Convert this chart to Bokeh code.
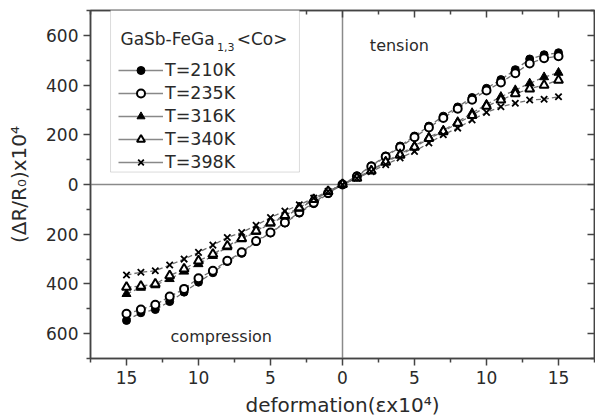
import numpy as np
from bokeh.plotting import figure
from bokeh.models import (Range1d, LinearAxis, Span, Label, Legend, LegendItem,
                          FixedTicker, BoxAnnotation)
from bokeh.embed import file_html
from bokeh.resources import INLINE

# ---- data ----
strain = list(range(-15, 16))
r_210 = [-547, -516, -503, -471, -433, -393, -355, -310, -277, -230, -195, -155, -115, -77, -37, 0,
         35, 75, 115, 155, 195, 235, 275, 312, 350, 387, 422, 462, 505, 522, 530]
r_235 = [-520, -503, -484, -451, -420, -377, -347, -307, -273, -227, -193, -153, -112, -73, -34, 0,
         32, 72, 112, 150, 190, 229, 268, 305, 341, 378, 410, 448, 487, 508, 516]
r_316 = [-440, -415, -405, -380, -350, -320, -287, -252, -220, -190, -157, -128, -97, -62, -29, 0,
         27, 57, 93, 123, 155, 190, 218, 252, 288, 322, 353, 380, 407, 432, 450]
r_340 = [-413, -409, -400, -367, -340, -307, -280, -247, -217, -187, -153, -124, -93, -60, -28, 0,
         26, 55, 90, 118, 150, 185, 213, 247, 278, 315, 340, 365, 385, 400, 420]
r_398 = [-364, -353, -347, -324, -300, -273, -244, -213, -193, -164, -133, -107, -82, -55, -27, 0,
         25, 52, 80, 107, 133, 167, 200, 227, 260, 290, 313, 327, 340, 343, 353]
series_labels = ["T=210K", "T=235K", "T=316K", "T=340K", "T=398K"]
title_main = "GaSb-FeGa"
title_sub = "1,3"
title_end = "<Co>"

x_ticks = [-15, -10, -5, 0, 5, 10, 15]
x_tick_labels = ["15", "10", "5", "0", "5", "10", "15"]
x_minor = [-17.5, -12.5, -7.5, -2.5, 2.5, 7.5, 12.5, 17.5]
y_ticks = [-600, -400, -200, 0, 200, 400, 600]
y_tick_labels = ["600", "400", "200", "0", "200", "400", "600"]
y_minor = [-700, -500, -300, -100, 100, 300, 500, 700]

FONT = "DejaVu Sans"
AX = "#444444"
TXT = "#2a2a2a"

p = figure(width=595, height=419, x_range=Range1d(-17.5, 17.5), y_range=Range1d(-700, 700),
           output_backend="svg", toolbar_location=None,
           min_border_left=90, min_border_right=1, min_border_top=10, min_border_bottom=56)
p.grid.visible = False
p.outline_line_color = AX
p.outline_line_width = 1.5
p.background_fill_color = "white"

def style_main(ax, ticks, minor, labels):
    ax.ticker = FixedTicker(ticks=ticks, minor_ticks=minor)
    ax.major_label_overrides = dict(zip(ticks, labels))
    ax.axis_line_color = AX
    ax.axis_line_width = 1.5
    ax.major_tick_line_color = AX
    ax.major_tick_line_width = 1.5
    ax.minor_tick_line_color = AX
    ax.minor_tick_line_width = 1.5
    ax.major_tick_out = 7
    ax.major_tick_in = 0
    ax.minor_tick_out = 4
    ax.minor_tick_in = 0
    ax.major_label_text_font = FONT
    ax.major_label_text_font_size = "17px"
    ax.major_label_text_color = TXT
    ax.axis_label_text_font = FONT
    ax.axis_label_text_font_size = "20px"
    ax.axis_label_text_font_style = "normal"
    ax.axis_label_text_color = TXT

style_main(p.xaxis[0], x_ticks, x_minor, x_tick_labels)
style_main(p.yaxis[0], y_ticks, y_minor, y_tick_labels)
p.xaxis[0].axis_label = "deformation(\u03b5x10\u2074)"
p.yaxis[0].axis_label = "(\u0394R/R\u2080)x10\u2074"
p.xaxis[0].major_label_standoff = 5
p.xaxis[0].axis_label_standoff = 6
p.yaxis[0].major_label_standoff = 5
p.yaxis[0].axis_label_standoff = 12

def mirror_axis(ticks, minor):
    ax = LinearAxis(ticker=FixedTicker(ticks=ticks, minor_ticks=minor))
    ax.major_label_overrides = {t: "" for t in ticks}
    ax.major_label_text_font_size = "1px"
    ax.major_label_standoff = 0
    ax.axis_line_color = AX
    ax.axis_line_width = 1.5
    ax.major_tick_line_color = AX
    ax.major_tick_line_width = 1.5
    ax.minor_tick_line_color = AX
    ax.minor_tick_line_width = 1.5
    ax.major_tick_out = 0
    ax.major_tick_in = 7
    ax.minor_tick_out = 0
    ax.minor_tick_in = 4
    return ax

p.add_layout(mirror_axis(x_ticks, x_minor), "above")
p.add_layout(mirror_axis(y_ticks, y_minor), "right")

# zero lines
p.add_layout(Span(location=0, dimension="height", line_color="#8a8a8a", line_width=1.5, level="underlay"))
p.add_layout(Span(location=0, dimension="width", line_color="#8a8a8a", line_width=1.5, level="underlay"))

# data lines
all_series = [r_210, r_235, r_316, r_340, r_398]
for vals in all_series:
    p.line(strain, vals, line_color="#707070", line_dash="5 3", line_width=1.3)

marker_specs = [
    dict(marker="circle", size=8, fill_color="black", line_color="black", line_width=1),
    dict(marker="circle", size=8, fill_color="white", line_color="black", line_width=2),
    dict(marker="triangle", size=9, fill_color="black", line_color="black", line_width=1),
    dict(marker="triangle", size=9, fill_color="white", line_color="black", line_width=2),
    dict(marker="x", size=9, line_color="black", line_width=1.8),
]
scatters = []
for vals, spec in zip(all_series, marker_specs):
    scatters.append(p.scatter(strain, vals, **spec))

# legend frame
p.add_layout(BoxAnnotation(left=-16.11, right=-2.99, top=707, bottom=50,
                           fill_color="white", fill_alpha=1,
                           line_color="#888888", line_width=1, level="annotation"))

# legend entries (solid grey line + marker)
nan2 = np.array([np.nan, np.nan])
items = []
for lab, sc in zip(series_labels, scatters):
    leg_line = p.line(np.array([0.0, 1.0]), nan2, line_color="#888888", line_width=1.3)
    items.append(LegendItem(label=lab, renderers=[leg_line, sc]))

legend = Legend(items=items, location=(23, 181), title=" ",
                title_text_font=FONT, title_text_font_size="17px", title_text_font_style="normal",
                title_standoff=26,
                label_text_font=FONT, label_text_font_size="17.5px", label_text_color=TXT,
                glyph_width=45, glyph_height=20, label_standoff=2, label_height=20,
                label_width=120, spacing=3, padding=5, margin=0,
                border_line_alpha=0, background_fill_alpha=0)
p.add_layout(legend)

# legend title with subscript
p.add_layout(Label(x=-15.42, y=585, text=title_main, text_font=FONT, text_font_size="17px",
                   text_color=TXT, text_baseline="alphabetic", level="overlay"))
p.add_layout(Label(x=-8.72, y=554, text=title_sub, text_font=FONT, text_font_size="11px",
                   text_color=TXT, text_baseline="alphabetic", level="overlay"))
p.add_layout(Label(x=-7.35, y=585, text=title_end, text_font=FONT, text_font_size="17px",
                   text_color=TXT, text_baseline="alphabetic", level="overlay"))

p.add_layout(Label(x=1.9, y=561, text="tension", text_font=FONT, text_font_size="16px",
                   text_color=TXT, text_baseline="alphabetic"))
p.add_layout(Label(x=-11.94, y=-612, text="compression", text_font=FONT, text_font_size="16px",
                   text_color=TXT, text_baseline="alphabetic"))

open("out.html", "w").write(file_html(p, INLINE))
